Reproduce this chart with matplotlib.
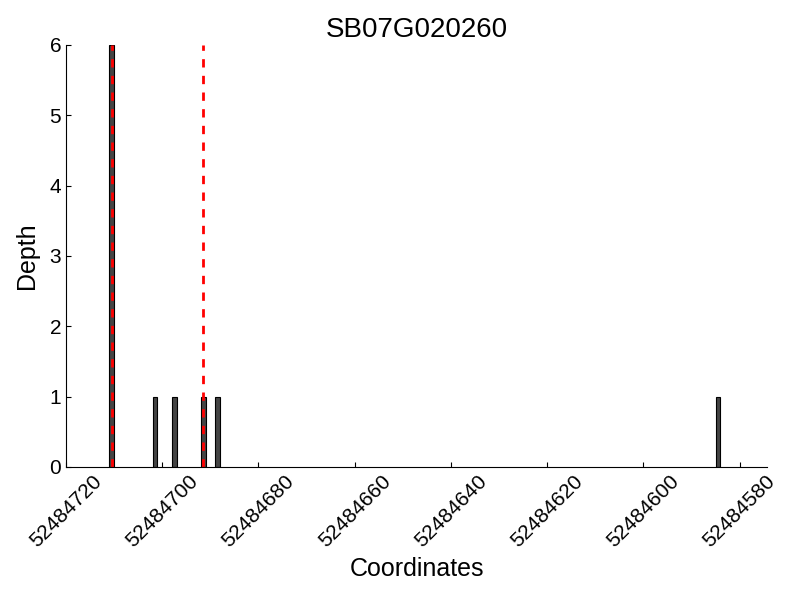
import matplotlib
matplotlib.use("Agg")
import matplotlib.pyplot as plt

title = "SB07G020260"
positions = [52484710, 52484701, 52484697, 52484691, 52484688, 52484584]
depths = [6, 1, 1, 1, 1, 1]
marker_lines = [52484710.5, 52484691.5]
xticks = [52484720, 52484700, 52484680, 52484660, 52484640, 52484620, 52484600, 52484580]

plt.rcParams['font.family'] = ['Liberation Sans', 'DejaVu Sans']

fig = plt.figure(figsize=(8, 6), dpi=100)
ax = fig.add_axes([0.0825, 0.2217, 0.8763, 0.7033])

ax.bar(positions, depths, width=1, align='edge', color='#444444', edgecolor='black', linewidth=0.8)
for m in marker_lines:
    ax.axvline(m, color='red', linestyle=(0, (3, 3)), linewidth=2)

ax.set_xlim(52484720, 52484574.3)
ax.set_ylim(0, 6)
ax.set_xticks(xticks)
ax.set_xticklabels([str(t) for t in xticks], rotation=45, ha='center', fontsize=15)
ax.tick_params(axis='y', labelsize=15)
ax.tick_params(direction='in', top=False, right=False)
ax.spines['top'].set_visible(False)
ax.spines['right'].set_visible(False)
ax.set_xlabel("Coordinates", fontsize=18)
ax.set_ylabel("Depth", fontsize=18, labelpad=7.5)
ax.set_title(title, fontsize=20)

fig.savefig("out.png", dpi=100)
